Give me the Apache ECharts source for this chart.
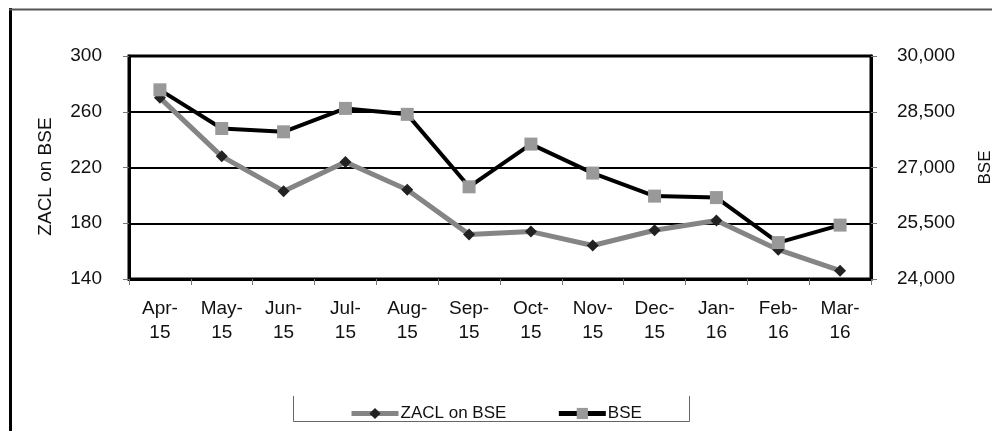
<!DOCTYPE html>
<html>
<head>
<meta charset="utf-8">
<script src="https://cdn.jsdelivr.net/npm/echarts@6/dist/echarts.min.js"></script>
<style>
html,body{margin:0;padding:0;background:#fff;}
#chart{width:992px;height:431px;}
</style>
</head>
<body>
<div id="chart"></div>
<script>
var categories = ['Apr-\n15','May-\n15','Jun-\n15','Jul-\n15','Aug-\n15','Sep-\n15','Oct-\n15','Nov-\n15','Dec-\n15','Jan-\n16','Feb-\n16','Mar-\n16'];
var zaclValues = [270, 228, 203, 224, 204, 172, 174, 164, 175, 182, 161, 146];
var bseValues = [29090, 28050, 27960, 28590, 28430, 26480, 27630, 26850, 26230, 26190, 24980, 25450];
var leftTicks = {min: 140, max: 300, interval: 40};
var rightTicks = {min: 24000, max: 30000, interval: 1500};

var chart = echarts.init(document.getElementById('chart'), null, {renderer: 'canvas'});
var font = 'Liberation Sans, Arial, sans-serif';
chart.setOption({
  animation: false,
  backgroundColor: '#fff',
  textStyle: {fontFamily: font},
  grid: {left: 129, right: 121, top: 56, bottom: 152, containLabel: false, outerBoundsMode: 'none',
    show: true, borderColor: '#000', borderWidth: 3, backgroundColor: 'transparent'},
  legend: {
    left: 344, top: 400, itemWidth: 47, itemHeight: 14, itemGap: 50,
    textStyle: {fontFamily: font, fontSize: 17, color: '#111', padding: [0,0,0,-3]},
    data: [
      {name: 'ZACL on BSE', lineStyle: {width: 5}},
      {name: 'BSE', lineStyle: {width: 5}}
    ]
  },
  xAxis: {
    type: 'category', data: categories, boundaryGap: true,
    axisLine: {lineStyle: {color: '#000', width: 3}},
    axisTick: {show: true, length: 6, lineStyle: {color: '#777', width: 1}, interval: 0},
    axisLabel: {fontFamily: font, fontSize: 19, color: '#111', lineHeight: 24, margin: 18, interval: 0}
  },
  yAxis: [{
    type: 'value', min: leftTicks.min, max: leftTicks.max, interval: leftTicks.interval,
    name: 'ZACL on BSE', nameLocation: 'middle', nameRotate: 90, nameGap: 74,
    nameTextStyle: {fontFamily: font, fontSize: 19, color: '#111', padding: [0, 18, 0, 0]},
    axisLine: {show: true, lineStyle: {color: '#000', width: 3}},
    axisTick: {show: true, length: 6, lineStyle: {color: '#777', width: 1}},
    axisLabel: {fontFamily: font, fontSize: 19, color: '#111', margin: 27},
    splitLine: {show: true, lineStyle: {color: '#000', width: 2}}
  }, {
    type: 'value', min: rightTicks.min, max: rightTicks.max, interval: rightTicks.interval,
    name: 'BSE', nameLocation: 'middle', nameRotate: 90, nameGap: 106,
    nameTextStyle: {fontFamily: font, fontSize: 17, color: '#111'},
    axisLine: {show: true, lineStyle: {color: '#000', width: 3}},
    axisTick: {show: true, length: 6, lineStyle: {color: '#777', width: 1}},
    axisLabel: {fontFamily: font, fontSize: 19, color: '#111', margin: 26,
      formatter: function(v){ return v.toLocaleString('en-US'); }},
    splitLine: {show: false}
  }],
  series: [{
    name: 'ZACL on BSE', type: 'line', yAxisIndex: 0, data: zaclValues,
    symbol: 'diamond', symbolSize: 12, z: 2,
    lineStyle: {color: '#858585', width: 5},
    itemStyle: {color: '#222', borderWidth: 0}
  }, {
    name: 'BSE', type: 'line', yAxisIndex: 1, data: bseValues,
    symbol: 'rect', symbolSize: 13, z: 3,
    lineStyle: {color: '#000', width: 4},
    itemStyle: {color: '#999', borderWidth: 0}
  }],
  graphic: [
    {type: 'line', shape: {x1: 10.5, y1: 8, x2: 10.5, y2: 431}, style: {stroke: '#000', lineWidth: 3}},
    {type: 'line', shape: {x1: 9, y1: 9.5, x2: 992, y2: 9.5}, style: {stroke: '#555', lineWidth: 2}},
    {type: 'polyline', shape: {points: [[293.5, 396], [293.5, 421.5], [689.5, 421.5], [689.5, 396]]}, style: {stroke: '#666', lineWidth: 1, fill: null}}
  ]
});
</script>
</body>
</html>
